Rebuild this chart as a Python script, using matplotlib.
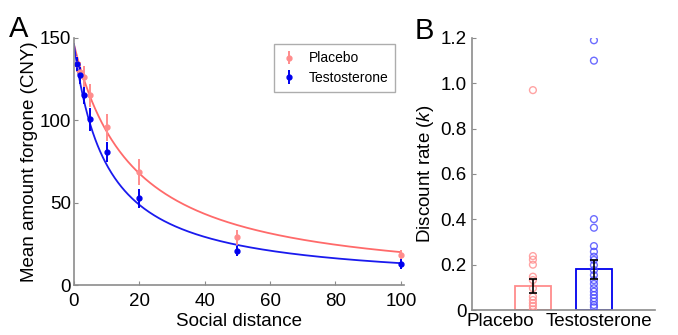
import numpy as np
import matplotlib
matplotlib.use("Agg")
import matplotlib.pyplot as plt

plt.rcParams['font.family'] = ['Liberation Sans', 'DejaVu Sans']
plt.rcParams['mathtext.fontset'] = 'custom'
plt.rcParams['mathtext.it'] = 'Liberation Sans:italic'
plt.rcParams['mathtext.rm'] = 'Liberation Sans'

# panel A data
distance = [1, 2, 3, 5, 10, 20, 50, 100]
placebo_mean = [134, 129, 126, 115, 95.5, 68.5, 29, 18]
placebo_err = [5, 6, 7, 7, 8, 8, 4.5, 3]
testo_mean = [134, 127, 115, 100.5, 80.5, 52.5, 20.5, 13]
testo_err = [4, 5, 5, 7, 6, 6, 3, 3]

# fitted hyperbolic curves  V / (1 + k d)^s
fit_V = 146
placebo_k, placebo_s = 0.05, 1.11
testo_k, testo_s = 0.1, 1.0

# panel B data
groups = ['Placebo', 'Testosterone']
k_mean = [0.105, 0.18]
k_sem = [0.03, 0.042]
placebo_k_vals = [0.97, 0.238, 0.222, 0.2, 0.147, 0.132, 0.096, 0.059, 0.044, 0.03, 0.018, 0.003]
testo_k_vals = [1.19, 1.10, 0.401, 0.363, 0.282, 0.257, 0.235, 0.221, 0.198, 0.176, 0.154,
                0.132, 0.115, 0.096, 0.081, 0.066, 0.052, 0.037, 0.022, 0.012]

red = '#ff6a6a'
red_light = '#ff8c8c'
blue = '#1a1aee'
blue_dark = '#0000ee'
spine_col = '#8c8c8c'

fig = plt.figure(figsize=(6.78, 3.35), dpi=100)

# ---- panel A
axA = fig.add_axes([0.109, 0.149, 0.487, 0.739])
d = np.linspace(0, 100, 400)
axA.plot(d, fit_V / (1 + placebo_k * d) ** placebo_s, color=red, lw=1.3)
axA.plot(d, fit_V / (1 + testo_k * d) ** testo_s, color=blue, lw=1.3)
axA.errorbar(distance, placebo_mean, yerr=placebo_err, fmt='o', color=red_light,
             ms=3.5, elinewidth=1.4, capsize=0, label='Placebo')
axA.errorbar(distance, testo_mean, yerr=testo_err, fmt='o', color=blue_dark,
             ms=3.5, elinewidth=1.4, capsize=0, label='Testosterone')
axA.set_xlim(0, 101)
axA.set_ylim(0, 150)
axA.set_xticks([0, 20, 40, 60, 80, 100])
axA.set_yticks([0, 50, 100, 150])
axA.set_xlabel('Social distance', fontsize=13.5, labelpad=2)
axA.set_ylabel('Mean amount forgone (CNY)', fontsize=13.5, labelpad=1)
leg = axA.legend(loc='upper right', bbox_to_anchor=(0.973, 0.972), fontsize=10,
                 frameon=True, fancybox=False, handlelength=1.2, borderpad=0.5,
                 labelspacing=0.4, borderaxespad=0)
leg.get_frame().set_edgecolor('#999999')
leg.get_frame().set_linewidth(1.0)

# ---- panel B
axB = fig.add_axes([0.696, 0.0746, 0.27, 0.812])
xpos = [1, 2]
axB.bar(xpos, k_mean, width=0.6, facecolor='none', edgecolor=[red_light, blue_dark], lw=1.3)
axB.scatter([1] * len(placebo_k_vals), placebo_k_vals, s=24, facecolors='none',
            edgecolors=red_light, linewidths=1.0, alpha=0.8, zorder=3)
axB.scatter([2] * len(testo_k_vals), testo_k_vals, s=24, facecolors='none',
            edgecolors='#4848ff', linewidths=1.0, alpha=0.8, zorder=3)
axB.errorbar(xpos, k_mean, yerr=k_sem, fmt='none', ecolor='black', elinewidth=1.2,
             capsize=3, capthick=1.2, zorder=4)
axB.set_xlim(0, 3)
axB.set_ylim(0, 1.2)
axB.set_yticks([0, 0.2, 0.4, 0.6, 0.8, 1.0, 1.2])
axB.set_yticklabels(['0', '0.2', '0.4', '0.6', '0.8', '1.0', '1.2'])
# labels sit close together under the bars, as in the original
axB.set_xticks([0.46, 2.08])
axB.set_xticklabels(groups)
axB.set_ylabel('Discount rate ($\\mathit{k}$)', fontsize=13.5, labelpad=3)

for ax in (axA, axB):
    for side in ('top', 'right'):
        ax.spines[side].set_visible(False)
    for side in ('left', 'bottom'):
        ax.spines[side].set_color(spine_col)
        ax.spines[side].set_linewidth(1.2)
    ax.tick_params(direction='in', length=3, color=spine_col, labelsize=13.5)
axA.tick_params(axis='y', pad=2)
axA.tick_params(axis='x', pad=6)
axB.tick_params(axis='y', pad=4)
axB.tick_params(axis='x', length=0, pad=2)

fig.text(0.013, 0.89, 'A', fontsize=21)
fig.text(0.611, 0.885, 'B', fontsize=21)

fig.savefig('out.png', dpi=100)
